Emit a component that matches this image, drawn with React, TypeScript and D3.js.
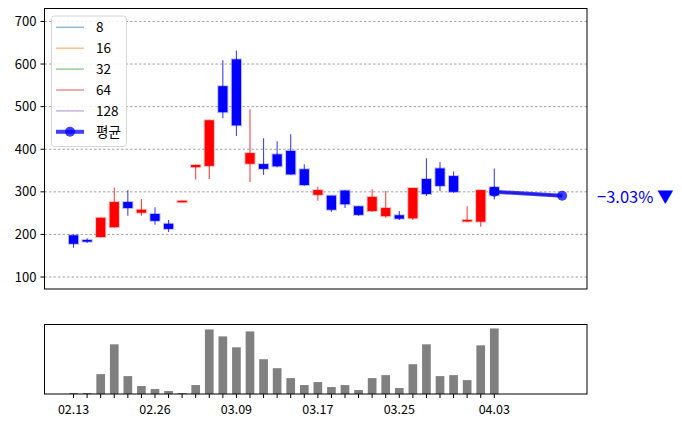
import React from "react";
import * as d3 from "d3";

const opens = [198, 187, 194, 217, 276, 251, 248, 225, 277, 358, 361, 548, 611, 366, 365, 388, 396, 353, 293, 291, 303, 266, 255, 243, 245, 238, 330, 355, 337, 232, 230, 311];
const closes = [178, 183, 239, 276, 262, 258, 232, 213, 279, 363, 468, 487, 456, 391, 354, 360, 341, 316, 304, 258, 271, 246, 288, 262, 237, 309, 295, 314, 300, 234, 304, 292];
const highs = [199, 191, 240, 310, 304, 283, 264, 234, 279, 364, 469, 609, 632, 494, 426, 419, 435, 365, 312, 291, 304, 267, 306, 302, 255, 309, 379, 370, 348, 266, 304, 355];
const lows = [169, 180, 193, 216, 244, 244, 223, 206, 277, 329, 330, 473, 431, 323, 340, 358, 340, 314, 279, 253, 262, 244, 253, 239, 234, 234, 290, 302, 298, 229, 218, 282];
const volumes = [1, 1, 20, 50, 18, 8, 5, 3, 1, 9, 65, 58, 47, 63, 35, 26, 16, 9, 12, 7, 9, 4, 16, 19, 6, 30, 50, 18, 19, 14, 49, 66];

const tickLabels = ["02.13", "02.26", "03.09", "03.17", "03.25", "04.03"];
const tickIndex = [0, 6, 12, 18, 24, 31];

const forecastNames = ["8", "16", "32", "64", "128"];
const forecastColors = ["#1f77b4", "#ff7f0e", "#2ca02c", "#d62728", "#9467bd"];
const forecastStart = 300;
const forecastEnds = [290, 292, 289.5, 291.5, 291.5];
const forecastSteps = 5;
const yTicks = [100, 200, 300, 400, 500, 600, 700];

const FONT = "'Noto Sans CJK KR', 'Noto Sans', sans-serif";

export default function App() {
  const W = 682, H = 428;
  const L = 44.5, R = 587;
  const mainTop = 8.5, mainBot = 289;
  const volTop = 324.5, volBot = 394;

  const x = d3.scaleLinear().domain([-2.14, 37.83]).range([L, R]);
  const y = d3.scaleLinear().domain([71.9, 730.4]).range([mainBot, mainTop]);
  const vmax = d3.max(volumes) as number;
  const yv = d3.scaleLinear().domain([0, vmax * 1.06]).range([volBot, volTop]);

  const step = x(1) - x(0);
  const bodyW = step * 0.68;
  const barW = step * 0.64;
  const n = opens.length;
  const last = n - 1;
  const endIdx = last + forecastSteps;
  const avgEnd = d3.mean(forecastEnds) as number;
  const pct = ((avgEnd - forecastStart) / forecastStart) * 100;
  const pctText = (pct < 0 ? "\u2212" : "+") + Math.abs(pct).toFixed(2) + "%";

  const line = d3.line<[number, number]>().x((d) => x(d[0])).y((d) => y(d[1]));

  const legendItems = [...forecastNames.map((nm, i) => ({ nm, c: forecastColors[i] })), { nm: "평균", c: "blue" }];

  return (
    <svg width={W} height={H} style={{ position: "absolute", left: 0, top: 0, background: "white" }} fontFamily={FONT}>
      <defs>
        <clipPath id="mainclip">
          <rect x={L} y={mainTop} width={R - L} height={mainBot - mainTop} />
        </clipPath>
      </defs>
      {yTicks.map((t) => (
        <line key={"g" + t} x1={L} x2={R} y1={y(t)} y2={y(t)} stroke="#8c8c8c" strokeWidth={0.8} strokeDasharray="2.5,2" />
      ))}
      <g clipPath="url(#mainclip)">
        {opens.map((o, i) => {
          const up = closes[i] >= o;
          const c = up ? "#ff0000" : "#0000ff";
          return (
            <line key={"w" + i} x1={x(i)} x2={x(i)} y1={y(highs[i])} y2={y(lows[i])} stroke={c} strokeOpacity={0.75} strokeWidth={1.1} />
          );
        })}
        {opens.map((o, i) => {
          const up = closes[i] >= o;
          const c = up ? "#ff0000" : "#0000ff";
          const top = y(Math.max(o, closes[i]));
          const bot = y(Math.min(o, closes[i]));
          const h = Math.max(bot - top, 1.5);
          return (
            <rect key={"b" + i} x={x(i) - bodyW / 2} y={top} width={bodyW} height={h} fill={c} stroke={c} strokeOpacity={0.25} strokeWidth={2} />
          );
        })}
        {forecastEnds.map((e, i) => (
          <path key={"f" + i} d={line([[last, forecastStart], [endIdx, e]]) as string} stroke={forecastColors[i]} strokeOpacity={0.5} strokeWidth={1.5} fill="none" />
        ))}
        <path d={line([[last, forecastStart], [endIdx, avgEnd]]) as string} stroke="blue" strokeOpacity={0.75} strokeWidth={4} fill="none" />
        <circle cx={x(last)} cy={y(forecastStart)} r={5} fill="blue" fillOpacity={0.75} />
        <circle cx={x(endIdx)} cy={y(avgEnd)} r={5} fill="blue" fillOpacity={0.75} />
      </g>
      <rect x={L} y={mainTop} width={R - L} height={mainBot - mainTop} fill="none" stroke="black" strokeWidth={1} />
      {yTicks.map((t) => (
        <g key={"t" + t}>
          <line x1={L - 4} x2={L} y1={y(t)} y2={y(t)} stroke="black" strokeWidth={1} />
          <text x={L - 8} y={y(t)} dy="0.35em" textAnchor="end" fontSize={13} fill="#000">
            {t}
          </text>
        </g>
      ))}
      <g>
        <rect x={51.5} y={16} width={75} height={130.5} rx={3} fill="white" fillOpacity={0.85} stroke="#d6d6d6" strokeWidth={1} />
        {legendItems.map((it, i) => {
          const ry = 27.3 + i * 20.9;
          const isAvg = i === legendItems.length - 1;
          return (
            <g key={"l" + i}>
              <line x1={56} x2={84} y1={ry} y2={ry} stroke={it.c} strokeOpacity={isAvg ? 0.75 : 0.5} strokeWidth={isAvg ? 4 : 1.5} />
              {isAvg && <circle cx={70} cy={ry} r={5} fill="blue" fillOpacity={0.75} />}
              <text x={96} y={ry} dy="0.36em" fontSize={13.5} fill="#000">
                {it.nm}
              </text>
            </g>
          );
        })}
      </g>
      <text x={597} y={y(avgEnd) + 1} dy="0.36em" fontSize={16.5} fill="blue">
        {pctText + " \u25BC"}
      </text>
      {volumes.map((v, i) => (
        <rect key={"v" + i} x={x(i) - barW / 2} y={yv(v)} width={barW} height={volBot - yv(v)} fill="#808080" />
      ))}
      <rect x={L} y={volTop} width={R - L} height={volBot - volTop} fill="none" stroke="black" strokeWidth={1} />
      {opens.map((_, i) => (
        <line key={"xt" + i} x1={x(i)} x2={x(i)} y1={volBot} y2={volBot + 4} stroke="black" strokeWidth={1} />
      ))}
      {tickIndex.map((ti, k) => (
        <text key={"xl" + k} x={x(ti)} y={volBot + 16.5} textAnchor="middle" fontSize={12.5} fill="#000" dominantBaseline="middle">
          {tickLabels[k]}
        </text>
      ))}
    </svg>
  );
}
